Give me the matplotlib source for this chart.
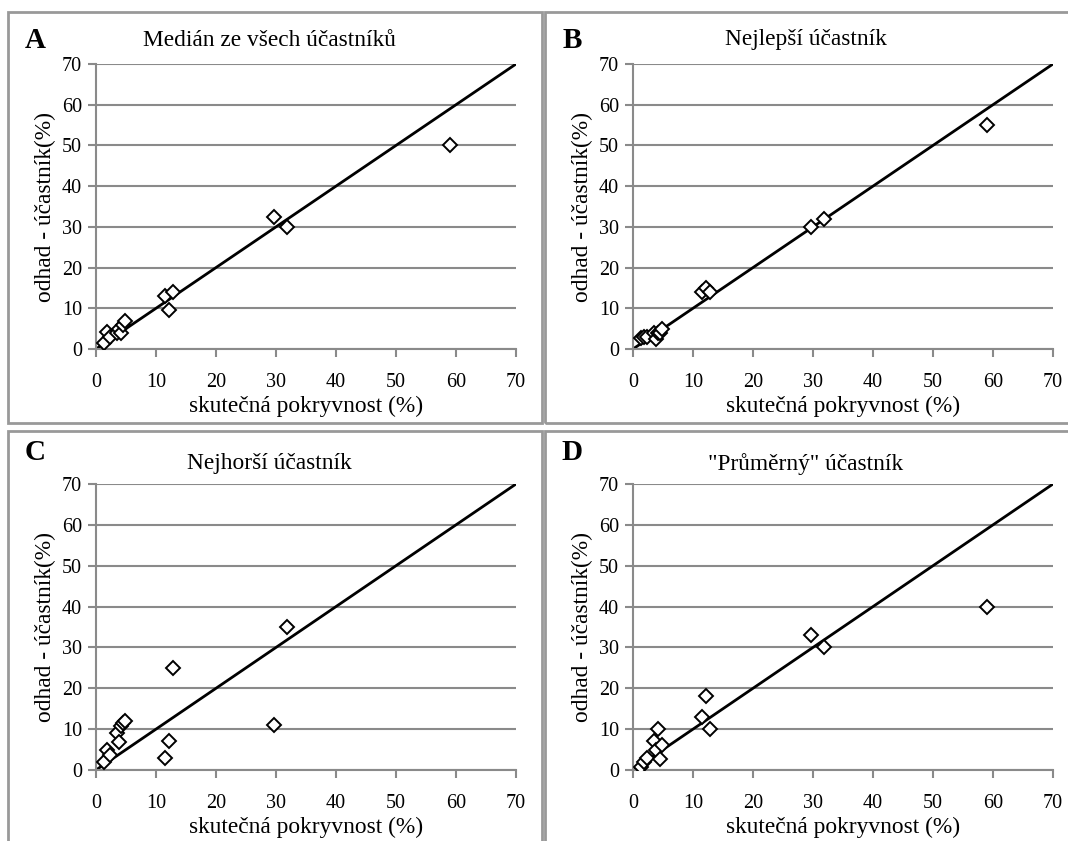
import numpy as np
import matplotlib as mpl
mpl.use('Agg')
import matplotlib.pyplot as plt
from matplotlib.patches import Rectangle

plt.rcParams['font.family'] = ['Liberation Serif', 'DejaVu Serif']

# true cover (%) - same species set in every panel
x_true = [1.4, 1.9, 2.4, 3.5, 3.8, 4.2, 4.5, 4.9, 11.5, 12.2, 12.9, 29.7, 31.8, 59.0]

# estimates of participants (%)
est_median = [1.5, 4.2, 3.0, 4.0, 5.0, 4.0, 6.0, 7.0, 13.0, 9.5, 14.0, 32.5, 30.0, 50.0]
est_best = [2.8, 3.0, 3.0, 4.0, 2.5, 4.0, 4.0, 5.0, 14.0, 15.0, 14.0, 30.0, 32.0, 55.0]
est_worst = [2.0, 5.0, 3.7, 9.0, 6.8, 10.7, 11.5, 12.0, 3.0, 7.0, 25.0, 11.0, 35.0, np.nan]
est_avg = [0.8, 2.0, 3.0, 7.0, 5.0, 10.0, 2.8, 6.0, 13.0, 18.0, 10.0, 33.0, 30.0, 40.0]

titles = ['Medián ze všech účastníků', 'Nejlepší účastník',
          'Nejhorší účastník', '"Průměrný" účastník']
letters = ['A', 'B', 'C', 'D']
series = [est_median, est_best, est_worst, est_avg]

W, H = 1068, 841
fig = plt.figure(figsize=(W / 100, H / 100), dpi=100)

# pixel layout of each panel: axes box (left, top, right, bottom), frame box
ax_px = [(96, 64, 516, 349), (633, 64, 1053, 349),
         (96, 484, 516, 770), (633, 484, 1053, 770)]
frame_px = [(8, 12, 542, 423), (545, 12, 1079, 423),
            (8, 431, 542, 850), (545, 431, 1079, 850)]
letter_y = [41, 41, 453, 453]
title_y = [40, 40, 464, 464]
grey = '#8a8a8a'
fs = 16.8

for i in range(4):
    l, t, r, b = ax_px[i]
    ax = fig.add_axes([l / W, 1 - b / H, (r - l) / W, (b - t) / H])
    ax.plot([0, 70], [0, 70], color='black', lw=2.0, zorder=2)
    ax.plot(x_true, series[i], linestyle='none', marker='D', markersize=7.5,
            markerfacecolor='white', markeredgecolor='black', markeredgewidth=1.4, zorder=3)
    ax.set_xlim(0, 70)
    ax.set_ylim(0, 70)
    ax.set_xticks(np.arange(0, 71, 10))
    ax.set_yticks(np.arange(0, 71, 10))
    ax.yaxis.grid(True, color=grey, lw=1.5)
    ax.set_axisbelow(True)
    for s in ['top', 'right']:
        ax.spines[s].set_visible(False)
    for s in ['left', 'bottom']:
        ax.spines[s].set_color(grey)
        ax.spines[s].set_linewidth(1.5)
    ax.tick_params(axis='both', colors=grey, labelcolor='black', labelsize=14.5,
                   length=6, width=1.5, direction='out')
    ax.tick_params(axis='x', pad=11)
    ax.tick_params(axis='y', pad=4)
    ax.set_xlabel('skutečná pokryvnost (%)', fontsize=fs, labelpad=3)
    ax.set_ylabel('odhad - účastník(%)', fontsize=fs, labelpad=4)

    fl, ft, fr, fb = frame_px[i]
    fig.patches.append(Rectangle((fl / W, 1 - fb / H), (fr - fl) / W, (fb - ft) / H,
                                 transform=fig.transFigure, fill=False,
                                 edgecolor='#999999', lw=2.0, zorder=0))
    fig.text((fl + 27) / W, 1 - letter_y[i] / H, letters[i], fontsize=21,
             fontweight='bold', ha='center', va='center')
    fig.text((fl + 261) / W, 1 - title_y[i] / H, titles[i], fontsize=fs,
             ha='center', va='center')

plt.savefig('out.png', dpi=100)
